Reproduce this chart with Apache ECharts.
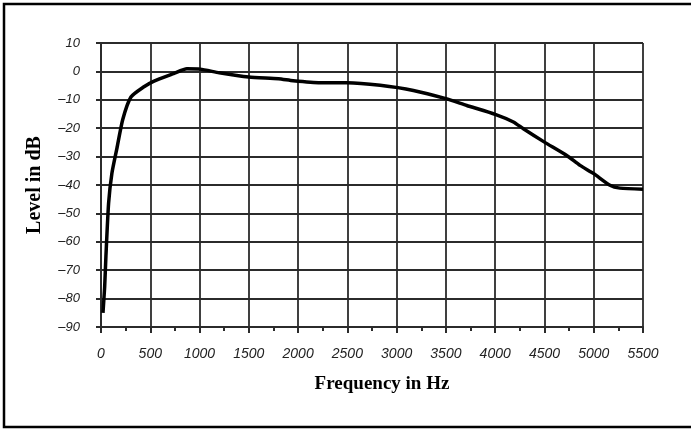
<!DOCTYPE html>
<html>
<head>
    <meta charset="utf-8">
    <script src="https://cdn.jsdelivr.net/npm/echarts@6/dist/echarts.min.js"></script>
    <style>
        html, body { margin: 0; padding: 0; background: #fff; }
    </style>
</head>
<body>
    <div id="main" style="width: 691px;height:430px;"></div>
    <script type="text/javascript">
        var chart = echarts.init(document.getElementById('main'));

        // frequency (Hz) and level (dB)
        var freqHz = [20, 37, 50, 77, 110, 162, 220, 304, 432, 533, 736, 872, 1007, 1200, 1500, 1800, 1950, 2224, 2500, 2833, 3170, 3500, 3712, 4000, 4185, 4286, 4500, 4726, 4861, 5000, 5165, 5266, 5500];
        var levelDb = [-85, -76, -65, -46.5, -36, -27, -17, -9, -5.5, -3.5, -0.8, 0.9, 0.8, -0.5, -2, -2.6, -3.3, -4, -4, -4.9, -6.7, -9.6, -12, -15.1, -17.8, -20.2, -24.9, -29.6, -33.1, -36, -40.1, -41.1, -41.5];

        var xMin = 0, xMax = 5500, xStep = 500;
        var yMin = -90, yMax = 10, yStep = 10;

        var lineColor = '#2b2b2b';

        var points = freqHz.map(function (f, i) { return [f, levelDb[i]]; });

        var option = {
            animation: false,
            grid: { left: 101, right: 48, top: 43, bottom: 103 },
            graphic: [
                { // 外框
                    type: 'rect',
                    shape: { x: 4, y: 4, width: 692, height: 423 },
                    style: { fill: 'none', stroke: '#000', lineWidth: 2.5 },
                    silent: true
                }
            ],
            xAxis: {
                type: 'value',
                min: xMin, max: xMax, interval: xStep,
                name: 'Frequency in Hz',
                nameLocation: 'middle',
                nameGap: 48,
                nameTextStyle: {
                    fontFamily: 'Liberation Serif', fontWeight: 'bold', fontSize: 19,
                    color: '#000', padding: [0, 0, 0, 20]
                },
                axisLine: { show: true, onZero: false, lineStyle: { color: lineColor, width: 2 } },
                axisTick: { show: true, length: 6, lineStyle: { color: lineColor, width: 2 } },
                minorTick: { show: true, splitNumber: 2, length: 4, lineStyle: { color: lineColor, width: 2 } },
                splitLine: { show: true, lineStyle: { color: lineColor, width: 1.8 } },
                axisLabel: {
                    margin: 20,
                    fontFamily: 'Liberation Sans', fontStyle: 'italic', fontSize: 14, color: '#222',
                    formatter: function (v) { return String(v); }
                }
            },
            yAxis: {
                type: 'value',
                min: yMin, max: yMax, interval: yStep,
                name: 'Level in dB',
                nameLocation: 'middle',
                nameGap: 56,
                nameRotate: 90,
                nameTextStyle: {
                    fontFamily: 'Liberation Serif', fontWeight: 'bold', fontSize: 20, color: '#000'
                },
                axisLine: { show: true, onZero: false, lineStyle: { color: lineColor, width: 2 } },
                axisTick: { show: true, length: 5, lineStyle: { color: lineColor, width: 2 } },
                splitLine: { show: true, lineStyle: { color: lineColor, width: 1.8 } },
                axisLabel: {
                    margin: 21,
                    fontFamily: 'Liberation Sans', fontStyle: 'italic', fontSize: 13, color: '#222',
                    formatter: function (v) { return String(v).replace('-', '\u2013'); }
                }
            },
            series: [
                {
                    type: 'line',
                    data: points,
                    showSymbol: false,
                    smooth: 0.2,
                    lineStyle: { color: '#000', width: 3.5 },
                    z: 5
                }
            ]
        };
        chart.setOption(option);
    </script>
</body>
</html>
